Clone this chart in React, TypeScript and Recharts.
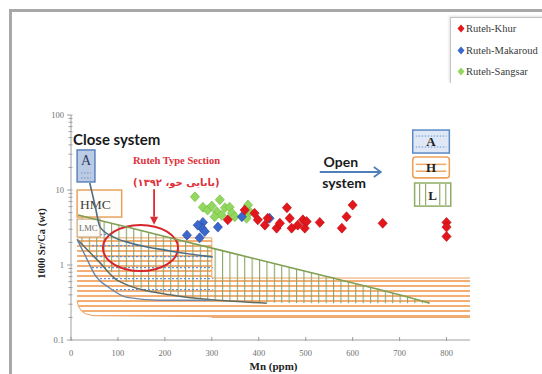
import React from 'react';
import {
  ComposedChart,
  XAxis,
  YAxis,
  Scatter,
  Area,
  Line,
  ReferenceArea,
  ReferenceLine,
  ReferenceDot,
  Legend,
} from 'recharts';

const SERIF = '"Liberation Serif", "Times New Roman", serif';
const SANS = 'Lato, "Open Sans", sans-serif';
const ARABIC = '"DejaVu Sans", "Noto Sans", sans-serif';

// ---- samples: Mn (ppm) against 1000·Sr/Ca (wt) ----
const khurMn = [334, 370, 391, 398, 413, 419, 438, 445, 460, 466, 470, 483, 494, 498, 502, 530, 577, 587, 600, 664, 800, 800, 800];
const khurSrCa = [4.0, 5.4, 4.9, 4.0, 3.4, 4.2, 3.1, 3.6, 5.8, 4.2, 3.1, 3.4, 4.0, 3.1, 3.8, 3.7, 3.1, 4.4, 6.3, 3.6, 3.7, 3.2, 2.4];

const makaroudMn = [247, 274, 281, 279, 270, 285, 313, 364, 423];
const makaroudSrCa = [2.5, 2.3, 3.7, 3.1, 3.4, 2.8, 3.2, 4.4, 4.2];

const sangsarMn = [264, 281, 291, 300, 317, 311, 328, 338, 343, 349, 377, 381, 374, 321, 306];
const sangsarSrCa = [8.1, 5.9, 5.4, 6.1, 7.4, 5.1, 5.8, 5.9, 4.9, 4.4, 6.3, 5.1, 4.2, 4.6, 4.4];

const seriesNames = ['Ruteh-Khur', 'Ruteh-Makaroud', 'Ruteh-Sangsar'];
const seriesColors = ['#e3161c', '#3b68cc', '#93d85e'];
const seriesEdges = ['#b80d12', '#26479a', '#6fb83d'];

// ---- diagenetic fields (Mn, Sr/Ca) ----
// H: high-Mg calcite field
const hFieldMn = [13, 16, 22, 30, 45, 62, 300, 300, 850];
const hFieldTop = [2.3, 2.3, 2.3, 2.3, 2.3, 2.3, 2.3, 0.67, 0.67];
const hFieldBottom = [0.33, 0.28, 0.245, 0.225, 0.212, 0.21, 0.205, 0.2, 0.2];

// L: low-Mg calcite field
const lFieldMn = [15, 60, 126, 232, 381, 530, 657, 764];
const lFieldTop = [4.64, 3.95, 3.13, 2.14, 1.26, 0.74, 0.47, 0.31];
const lFieldBottom = [2.15, 1.1, 0.56, 0.39, 0.32, 0.31, 0.31, 0.31];

// A: aragonite field
const aFieldMn = [40, 51, 62, 94, 126, 211, 302];
const aFieldTop = [12.4, 6.3, 3.2, 2.3, 1.97, 1.54, 1.28];
const aFieldBottom = [1.01, 0.74, 0.64, 0.45, 0.365, 0.34, 0.34];

// lower trend curves
const aLowerMn = [13, 30, 51, 83, 119, 189, 302];
const aLowerSrCa = [2.2, 1.35, 0.74, 0.49, 0.37, 0.34, 0.34];
const lLowerMn = [13, 60, 98, 211, 417];
const lLowerSrCa = [2.2, 1.1, 0.63, 0.4, 0.31];

// ---- axes ----
const xTicks = [0, 100, 200, 300, 400, 500, 600, 700, 800];
const yMajor = [0.1, 1, 10, 100];
const yTicks = [
  0.1, 0.2, 0.3, 0.4, 0.5, 0.6, 0.7, 0.8, 0.9,
  1, 2, 3, 4, 5, 6, 7, 8, 9,
  10, 20, 30, 40, 50, 60, 70, 80, 90, 100,
];

const zipPoints = (xs: number[], ys: number[]) => xs.map((x, i) => ({ x, y: ys[i] }));
const zipBand = (xs: number[], lo: number[], hi: number[]) =>
  xs.map((x, i) => ({ x, band: [lo[i], hi[i]] }));

const khurData = zipPoints(khurMn, khurSrCa);
const makaroudData = zipPoints(makaroudMn, makaroudSrCa);
const sangsarData = zipPoints(sangsarMn, sangsarSrCa);
const hField = zipBand(hFieldMn, hFieldBottom, hFieldTop);
const lField = zipBand(lFieldMn, lFieldBottom, lFieldTop);
const aField = zipBand(aFieldMn, aFieldBottom, aFieldTop);
const aUpperCurve = zipPoints(aFieldMn, aFieldTop);
const lUpperCurve = zipPoints(lFieldMn, lFieldTop);
const aLowerCurve = zipPoints(aLowerMn, aLowerSrCa);
const lLowerCurve = zipPoints(lLowerMn, lLowerSrCa);

const diamond = (fill: string, edge: string) => (p: any) => {
  const { cx, cy } = p;
  if (cx == null || cy == null) return <g />;
  return (
    <path
      d={`M${cx},${cy - 5}L${cx + 4.6},${cy}L${cx},${cy + 5}L${cx - 4.6},${cy}Z`}
      fill={fill}
      stroke={edge}
      strokeWidth={0.6}
    />
  );
};

const XTick = (props: any) => {
  const { x, y, payload } = props;
  return (
    <g>
      <line x1={x} x2={x} y1={y - 3} y2={y + 1} stroke="#9c9c9c" />
      <text x={x} y={y + 16} textAnchor="middle" fontSize={8.5} fill="#707070" fontFamily={SERIF}>
        {payload.value}
      </text>
    </g>
  );
};

const YTick = (props: any) => {
  const { x, y, payload } = props;
  const v = payload.value;
  const major = yMajor.includes(v);
  return (
    <g>
      <line x1={x - (major ? 4 : 2.5)} x2={x + 1.5} y1={y} y2={y} stroke="#a0a0a0" />
      {major && (
        <text x={x - 7} y={y + 3} textAnchor="end" fontSize={8.5} fill="#707070" fontFamily={SERIF}>
          {String(v)}
        </text>
      )}
    </g>
  );
};

const textAt = (content: React.ReactNode, style: any) => (p: any) => (
  <text x={p.cx} y={p.cy} {...style}>
    {content}
  </text>
);

const arrowShape = (color: string, open: boolean) => (p: any) => {
  const { x1, y1, x2, y2 } = p;
  const ang = Math.atan2(y2 - y1, x2 - x1);
  const L = open ? 7 : 8;
  const W = open ? 5 : 4;
  const ax = x2 - L * Math.cos(ang);
  const ay = y2 - L * Math.sin(ang);
  const nx = -Math.sin(ang) * W;
  const ny = Math.cos(ang) * W;
  return (
    <g>
      <line x1={x1} y1={y1} x2={open ? x2 : ax} y2={open ? y2 : ay} stroke={color} strokeWidth={open ? 2 : 1.8} />
      {open ? (
        <polyline
          points={`${ax + nx},${ay + ny} ${x2},${y2} ${ax - nx},${ay - ny}`}
          fill="none"
          stroke={color}
          strokeWidth={1.8}
        />
      ) : (
        <polygon points={`${ax + nx},${ay + ny} ${x2},${y2} ${ax - nx},${ay - ny}`} fill={color} />
      )}
    </g>
  );
};

const leftABox = (p: any) => {
  const { x, y, width: w, height: h } = p;
  return (
    <g>
      <rect x={x} y={y} width={w} height={h} fill="#bccbe4" stroke="#5b83be" strokeWidth={1.5} />
      <text x={x + w / 2} y={y + 15} textAnchor="middle" fontSize={14} fill="#2d3d63" fontFamily={SERIF}>
        A
      </text>
      <line x1={x + 4} x2={x + w - 4} y1={y + h - 9} y2={y + h - 9} stroke="#6c8fc6" strokeDasharray="1.5 1.5" />
      <line x1={x + 4} x2={x + w - 4} y1={y + h - 4} y2={y + h - 4} stroke="#6c8fc6" strokeDasharray="1.5 1.5" />
    </g>
  );
};

const hmcBox = (p: any) => {
  const { x, y, width: w, height: h } = p;
  return (
    <g>
      <rect x={x} y={y} width={w} height={h} fill="#fffdf9" stroke="#e8a25c" strokeWidth={1.5} />
      <text x={x + 3} y={y + h / 2 + 5} fontSize={13.5} fill="#3f3f3f" fontFamily={SERIF}>
        HMC
      </text>
    </g>
  );
};

const lmcBox = (p: any) => {
  const { x, y, width: w, height: h } = p;
  return (
    <g>
      <rect x={x} y={y} width={w} height={h} fill="#fbfbf7" stroke="#d2a574" strokeWidth={1.2} />
      <text x={x + 2} y={y + h / 2 + 3} fontSize={8.5} fill="#6a6a6a" fontFamily={SERIF}>
        LMC
      </text>
    </g>
  );
};

const rightABox = (p: any) => {
  const { x, y, width: w, height: h } = p;
  return (
    <g>
      <rect x={x} y={y} width={w} height={h} fill="#dfe8f4" stroke="#5b8ac4" strokeWidth={1.5} />
      <line x1={x + 3} x2={x + w - 3} y1={y + 6} y2={y + 6} stroke="#6a98d6" strokeDasharray="1.5 1.5" />
      <line x1={x + 3} x2={x + w - 3} y1={y + h - 6} y2={y + h - 6} stroke="#6a98d6" strokeDasharray="1.5 1.5" />
      <text x={x + w / 2} y={y + h / 2 + 4.5} textAnchor="middle" fontSize={13} fontWeight={700} fill="#222" fontFamily={SERIF}>
        A
      </text>
    </g>
  );
};

const rightHBox = (p: any) => {
  const { x, y, width: w, height: h } = p;
  return (
    <g>
      <rect x={x} y={y} width={w} height={h} rx={3} fill="#fff" stroke="#eea259" strokeWidth={1.6} />
      <line x1={x + 3} x2={x + w - 3} y1={y + h * 0.35} y2={y + h * 0.35} stroke="#f0a866" strokeWidth={1.5} />
      <line x1={x + 3} x2={x + w - 3} y1={y + h * 0.68} y2={y + h * 0.68} stroke="#f0a866" strokeWidth={1.5} />
      <text x={x + w / 2} y={y + h / 2 + 4.5} textAnchor="middle" fontSize={13} fontWeight={700} fill="#222" fontFamily={SERIF}>
        H
      </text>
    </g>
  );
};

const rightLBox = (p: any) => {
  const { x, y, width: w, height: h } = p;
  const cols = [5, 11, w - 11, w - 5];
  return (
    <g>
      <rect x={x} y={y} width={w} height={h} fill="#fff" stroke="#8fac64" strokeWidth={1.5} />
      {cols.map((c) => (
        <line key={c} x1={x + c} x2={x + c} y1={y + 1} y2={y + h - 1} stroke="#93ae6c" strokeWidth={1.2} />
      ))}
      <text x={x + w / 2} y={y + h / 2 + 5} textAnchor="middle" fontSize={13} fontWeight={700} fill="#222" fontFamily={SERIF}>
        L
      </text>
    </g>
  );
};

const ellipseShape = (p: any) => {
  const { x, y, width: w, height: h } = p;
  return (
    <ellipse cx={x + w / 2} cy={y + h / 2} rx={w / 2} ry={h / 2} fill="none" stroke="#d6262c" strokeWidth={2} />
  );
};

const LegendBox = () => (
  <div
    style={{
      width: 96,
      height: 66,
      background: '#fff',
      borderLeft: '1.5px solid #c4c4c4',
      borderTop: '1.5px solid #c4c4c4',
      boxShadow: '-1px -1px 2px rgba(0,0,0,0.12)',
      fontFamily: SERIF,
      fontSize: 10.5,
      color: '#3a3a3a',
      boxSizing: 'border-box',
    }}
  >
    {seriesNames.map((name, i) => (
      <div key={name} style={{ display: 'flex', alignItems: 'center', height: 21.5, paddingLeft: 6 }}>
        <svg width={8} height={9} style={{ flex: 'none' }}>
          <path d="M4,0.5L7.5,4.5L4,8.5L0.5,4.5Z" fill={seriesColors[i]} />
        </svg>
        <span style={{ marginLeft: 1, whiteSpace: 'nowrap' }}>{name}</span>
      </div>
    ))}
  </div>
);

export default function App() {
  return (
    <div style={{ position: 'absolute', left: 0, top: 0, width: 542, height: 374, background: '#fff', overflow: 'hidden' }}>
      <svg width={0} height={0} style={{ position: 'absolute' }}>
        <defs>
          <pattern id="hatchH" width={8} height={5} patternUnits="userSpaceOnUse">
            <rect x={0} y={0} width={8} height={2} fill="#f2ae74" />
          </pattern>
          <pattern id="hatchL" width={7.4} height={8} patternUnits="userSpaceOnUse">
            <rect x={0} y={0} width={1.1} height={8} fill="#8ba566" />
          </pattern>
          <pattern id="hatchA" width={4} height={11} patternUnits="userSpaceOnUse">
            <rect x={0} y={3} width={2} height={1.2} fill="#5f8fd6" />
          </pattern>
        </defs>
      </svg>
      <div
        style={{
          position: 'absolute',
          left: 9,
          top: 9,
          width: 540,
          height: 370,
          borderLeft: '3px solid #a8a8a8',
          borderTop: '3px solid #a8a8a8',
        }}
      />
      <div style={{ position: 'absolute', left: 0, top: 0 }}>
        <ComposedChart width={542} height={374} margin={{ top: 115, right: 72, bottom: 0, left: 31 }}>
          <XAxis
            type="number"
            dataKey="x"
            domain={[0, 850]}
            ticks={xTicks}
            interval={0}
            height={34}
            tickSize={0}
            tickMargin={0}
            tick={<XTick />}
            axisLine={{ stroke: '#a0a0a0' }}
            allowDataOverflow
            label={{
              content: (p: any) => {
                const vb = p.viewBox;
                return (
                  <text x={vb.x + vb.width / 2 + 3} y={370} textAnchor="middle" fontSize={11} fontWeight={700} fill="#222" fontFamily={SERIF}>
                    Mn (ppm)
                  </text>
                );
              },
            }}
          />
          <YAxis
            type="number"
            scale="log"
            domain={[0.1, 100]}
            ticks={yTicks}
            interval={0}
            width={40}
            tickSize={0}
            tickMargin={0}
            tick={<YTick />}
            axisLine={{ stroke: '#a0a0a0' }}
            allowDataOverflow
            label={{
              content: (p: any) => {
                const vb = p.viewBox;
                const cx = vb.x + 14;
                const cy = vb.y + vb.height / 2 + 16;
                return (
                  <text x={cx} y={cy} transform={`rotate(-90 ${cx} ${cy})`} textAnchor="middle" fontSize={10.5} fontWeight={700} fill="#222" fontFamily={SERIF}>
                    1000 Sr/Ca (wt)
                  </text>
                );
              },
            }}
          />

          {/* hatched fields */}
          <Area data={hField} dataKey="band" type="linear" fill="url(#hatchH)" fillOpacity={1} stroke="#eba363" strokeWidth={1} dot={false} activeDot={false} isAnimationActive={false} />
          <Area data={lField} dataKey="band" type="monotone" fill="url(#hatchL)" fillOpacity={1} stroke="none" dot={false} activeDot={false} isAnimationActive={false} />
          <Area data={aField} dataKey="band" type="monotone" fill="url(#hatchA)" fillOpacity={1} stroke="none" dot={false} activeDot={false} isAnimationActive={false} />

          {/* labelled boxes */}
          <ReferenceArea x1={13} x2={51} y1={12.8} y2={34.2} ifOverflow="visible" shape={leftABox} />
          <ReferenceArea x1={13} x2={108} y1={4.36} y2={10} ifOverflow="visible" shape={hmcBox} />
          <ReferenceArea x1={13} x2={62} y1={2.36} y2={4.1} ifOverflow="visible" shape={lmcBox} />
          <ReferenceArea x1={728} x2={806} y1={31.1} y2={63} ifOverflow="visible" shape={rightABox} />
          <ReferenceArea x1={728} x2={806} y1={14.5} y2={27.5} ifOverflow="visible" shape={rightHBox} />
          <ReferenceArea x1={732} x2={809} y1={6.1} y2={12.4} ifOverflow="visible" shape={rightLBox} />

          {/* field boundary curves */}
          <Line data={lUpperCurve} dataKey="y" type="monotone" stroke="#7f9f52" strokeWidth={1.6} dot={false} activeDot={false} isAnimationActive={false} />
          <Line data={lLowerCurve} dataKey="y" type="monotone" stroke="#5d6b63" strokeWidth={1.5} dot={false} activeDot={false} isAnimationActive={false} />
          <Line data={aLowerCurve} dataKey="y" type="monotone" stroke="#6d86a3" strokeWidth={1.5} dot={false} activeDot={false} isAnimationActive={false} />
          <Line data={aUpperCurve} dataKey="y" type="monotone" stroke="#4a6e86" strokeWidth={1.6} dot={false} activeDot={false} isAnimationActive={false} />

          <ReferenceArea x1={68} x2={228} y1={0.83} y2={3.42} ifOverflow="visible" shape={ellipseShape} />

          {/* annotations */}
          <ReferenceLine segment={[{ x: 177, y: 10.2 }, { x: 177, y: 3.45 }]} ifOverflow="visible" shape={arrowShape('#df2a30', false)} />
          <ReferenceLine segment={[{ x: 530, y: 17.4 }, { x: 660, y: 17.4 }]} ifOverflow="visible" shape={arrowShape('#4f7fb8', true)} />
          <ReferenceDot x={4.3} y={39.8} r={0} ifOverflow="visible" shape={textAt('Close system', { fontSize: 15, fontWeight: 700, fill: '#1a1a1a', fontFamily: SANS })} />
          <ReferenceDot x={132} y={22.2} r={0} ifOverflow="visible" shape={textAt('Ruteh Type Section', { fontSize: 10.5, fontWeight: 700, fill: '#e0313a', fontFamily: SERIF })} />
          <ReferenceDot x={132} y={11.3} r={0} ifOverflow="visible" shape={textAt('(بابایی خو، ۱۳۹۲)', { fontSize: 10, fontWeight: 700, fill: '#e0313a', fontFamily: ARABIC })} />
          <ReferenceDot x={538} y={20.3} r={0} ifOverflow="visible" shape={textAt('Open', { fontSize: 14, fontWeight: 700, fill: '#1a1a1a', fontFamily: SANS })} />
          <ReferenceDot x={535} y={10.6} r={0} ifOverflow="visible" shape={textAt('system', { fontSize: 14, fontWeight: 700, fill: '#1a1a1a', fontFamily: SANS })} />

          {/* samples */}
          <Scatter name={seriesNames[2]} data={sangsarData} dataKey="y" shape={diamond(seriesColors[2], seriesEdges[2])} isAnimationActive={false} />
          <Scatter name={seriesNames[1]} data={makaroudData} dataKey="y" shape={diamond(seriesColors[1], seriesEdges[1])} isAnimationActive={false} />
          <Scatter name={seriesNames[0]} data={khurData} dataKey="y" shape={diamond(seriesColors[0], seriesEdges[0])} isAnimationActive={false} />

          <Legend
            layout="vertical"
            align="center"
            verticalAlign="middle"
            content={() => <LegendBox />}
            wrapperStyle={{ position: 'absolute', left: 450, top: 17, width: 96, height: 66 }}
          />
        </ComposedChart>
      </div>
    </div>
  );
}
